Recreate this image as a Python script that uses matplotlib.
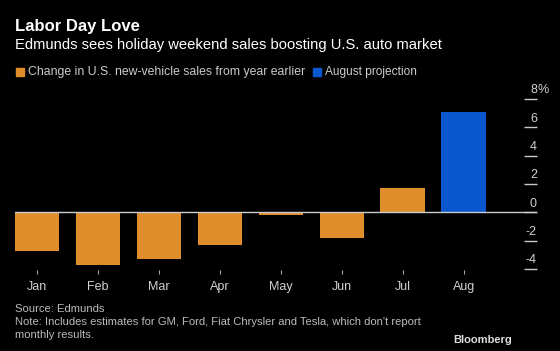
import numpy as np
import matplotlib
matplotlib.use("Agg")
import matplotlib.pyplot as plt
from matplotlib.patches import Rectangle

months = ["Jan", "Feb", "Mar", "Apr", "May", "Jun", "Jul", "Aug"]
sales_change = [-2.7, -3.7, -3.3, -2.3, -0.2, -1.8, 1.75, 7.1]
projected = [False, False, False, False, False, False, False, True]
ytick_vals = [-4, -2, 0, 2, 4, 6, 8]

orange = "#e08e2b"
blue = "#0b57d0"
W, H = 560, 351

def fx(px):
    return px / W

def fy(py):
    return 1 - py / H

plt.rcParams["font.family"] = ["Liberation Sans", "DejaVu Sans"]
fig = plt.figure(figsize=(W / 100, H / 100), dpi=100, facecolor="black")

# plot area in pixel coords: x 15..537, y 96..270
ax = fig.add_axes([fx(15), fy(270), fx(537) - fx(15), fy(96) - fy(270)])
ax.set_facecolor("black")
x = np.arange(len(months))
cols = [blue if p else orange for p in projected]
ax.bar(x, sales_change, width=0.73, color=cols, zorder=2)
ax.axhline(0, color="#c8ccd0", lw=1, zorder=3)
ax.set_xlim(-0.365, 8.205)
ax.set_ylim(-4.07, 8.21)

for s in ax.spines.values():
    s.set_visible(False)

ax.set_xticks(x)
ax.set_xticklabels(months, color="#d0d0d0", fontsize=9)
ax.tick_params(axis="x", length=3, width=0.8, color="#aaaaaa", pad=5)

# right side y ticks: short horizontal lines with labels sitting above
ax.yaxis.tick_right()
ax.set_yticks(ytick_vals)
ax.set_yticklabels([])
ax.tick_params(axis="y", direction="in", length=9.5, width=1, color="#c8c8c8")
for v in ytick_vals:
    ax.annotate(str(v), xy=(1.0, v), xycoords=("axes fraction", "data"),
                xytext=(0, 2), textcoords="offset points",
                ha="right", va="bottom", color="#d0d0d0", fontsize=9)
    if v == 8:
        ax.annotate("%", xy=(1.0, v), xycoords=("axes fraction", "data"),
                    xytext=(0, 2), textcoords="offset points",
                    ha="left", va="bottom", color="#d0d0d0", fontsize=9)

# header
fig.text(fx(15), fy(27), "Labor Day Love", color="white", fontsize=12,
         fontweight="bold", va="center", ha="left")
fig.text(fx(15), fy(45), "Edmunds sees holiday weekend sales boosting U.S. auto market",
         color="white", fontsize=10.6, va="center", ha="left")

# legend
fig.patches.append(Rectangle((fx(16), fy(76)), fx(8), 8 / H, color=orange,
                             transform=fig.transFigure))
fig.text(fx(28), fy(72), "Change in U.S. new-vehicle sales from year earlier",
         color="#cccccc", fontsize=8.8, va="center", ha="left")
fig.patches.append(Rectangle((fx(313), fy(76)), fx(8), 8 / H, color=blue,
                             transform=fig.transFigure))
fig.text(fx(325), fy(72), "August projection", color="#cccccc", fontsize=8.6,
         va="center", ha="left")

# footer
fig.text(fx(15), fy(309), "Source: Edmunds", color="#bbbbbb", fontsize=8.1,
         va="center", ha="left")
fig.text(fx(15), fy(322),
         "Note: Includes estimates for GM, Ford, Fiat Chrysler and Tesla, which don't report",
         color="#bbbbbb", fontsize=8.1, va="center", ha="left")
fig.text(fx(15), fy(335), "monthly results.", color="#bbbbbb", fontsize=8.1,
         va="center", ha="left")
fig.text(fx(512), fy(340), "Bloomberg", color="#dddddd", fontsize=8,
         fontweight="bold", va="center", ha="right")

fig.savefig("out.png", dpi=100, facecolor="black")
